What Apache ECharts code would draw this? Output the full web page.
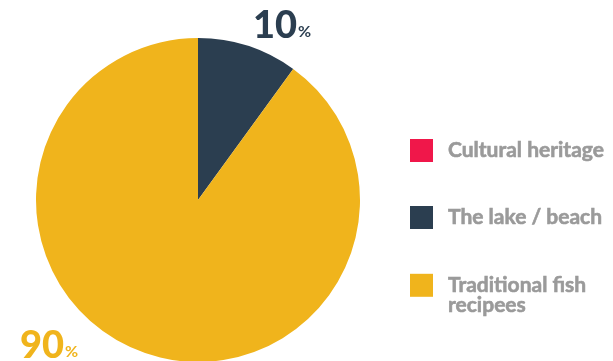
<!DOCTYPE html>
<html>
<head>
<meta charset="utf-8">
<script src="https://cdn.jsdelivr.net/npm/echarts@6/dist/echarts.min.js"></script>
<style>
  html, body { margin: 0; padding: 0; background: #ffffff; }
  #chart { width: 613px; height: 361px; }
</style>
</head>
<body>
<div id="chart"></div>
<script>
// Share of answers per category (percent)
var categories = ['Cultural heritage', 'The lake / beach', 'Traditional fish\nrecipees'];
var values = [0, 10, 90];
var colors = ['#f0174a', '#2b3e50', '#f0b41c'];

// Where each value label sits (outside the pie)
var labelSpots = [null, { x: 253, y: 26 }, { x: 20, y: 346 }];
// Top edge of each legend marker
var markerTops = [139, 206, 273];

var MARK = 23;   // legend square size
var LINE = 20;   // legend text line height

var chart = echarts.init(document.getElementById('chart'));

var pieData = categories.map(function (name, i) {
  return {
    name: name,
    value: values[i],
    itemStyle: { color: colors[i] },
    label: {
      show: values[i] > 0,
      rich: {
        v: { fontSize: 38, fontWeight: 900, color: colors[i], fontFamily: 'Lato' },
        p: { fontSize: 16, fontWeight: 'bold', color: colors[i], fontFamily: 'Lato', padding: [12, 0, 0, 1] }
      }
    }
  };
});

// One legend block per category; wrapped names get a blank lead line so the
// square lines up with the first line of text
var legends = categories.map(function (name, i) {
  var lines = name.split('\n').length;
  var shown = lines > 1 ? ' \n' + name : name;
  var blockH = (lines > 1 ? lines + 1 : lines) * LINE;
  var overhang = Math.max(0, (blockH - MARK) / 2);
  return {
    orient: 'vertical',
    left: 410,
    top: markerTops[i] - overhang,
    padding: 0,
    itemWidth: MARK,
    itemHeight: MARK,
    icon: 'rect',
    selectedMode: false,
    formatter: function () { return shown; },
    textStyle: {
      fontFamily: 'Lato',
      fontSize: 21,
      fontWeight: 'bold',
      color: '#9a9a9a',
      textBorderColor: '#9a9a9a',
      textBorderWidth: 0.6,
      lineHeight: LINE,
      padding: [0, 0, 0, 10]
    },
    data: [name]
  };
});

chart.setOption({
  animation: false,
  legend: legends,
  series: [{
    type: 'pie',
    center: [198, 200],
    radius: [0, 162],
    startAngle: 90,
    clockwise: true,
    silent: true,
    label: {
      position: 'outside',
      formatter: '{v|{c}}{p|%}'
    },
    labelLine: { show: false },
    labelLayout: function (params) {
      var s = labelSpots[params.dataIndex];
      if (!s) return {};
      return { x: s.x, y: s.y, align: 'left', verticalAlign: 'middle' };
    },
    data: pieData
  }]
});
</script>
</body>
</html>
